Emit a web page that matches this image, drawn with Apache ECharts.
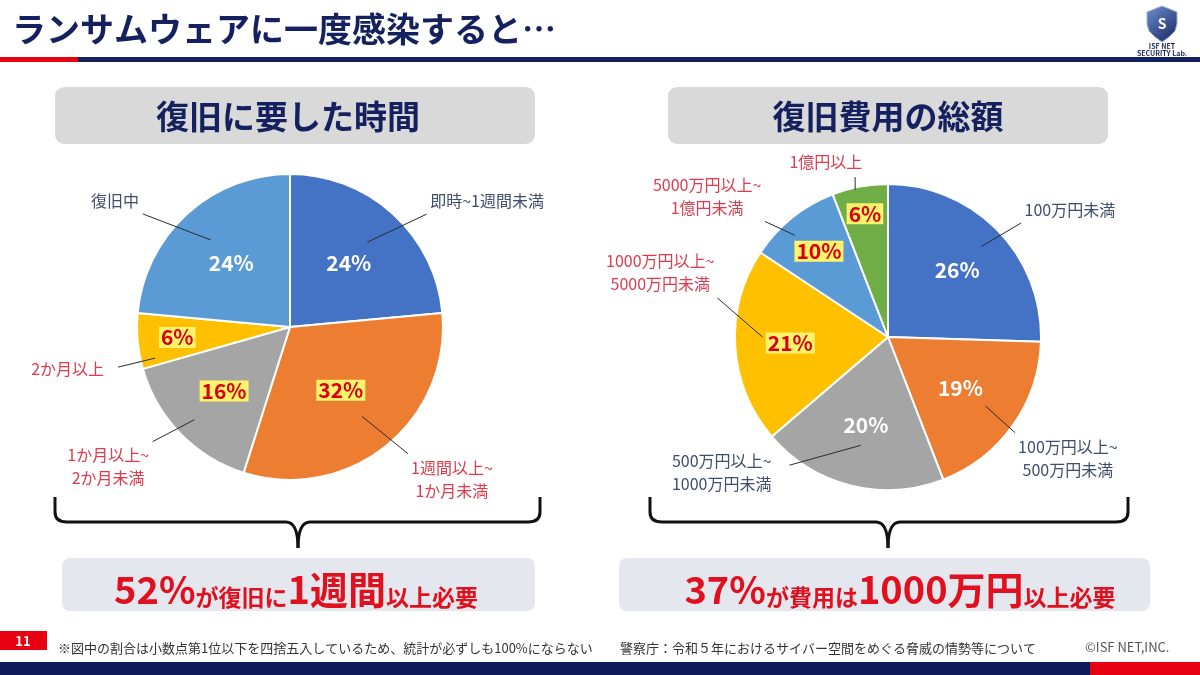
<!DOCTYPE html>
<html><head><meta charset="utf-8">
<script src="https://cdn.jsdelivr.net/npm/echarts@6/dist/echarts.min.js"></script>
<style>html,body{margin:0;padding:0;background:#fff;}#c{width:1200px;height:675px;}</style>
</head><body><div id="c"></div>
<script>
// ---- data ----
const leftCats = ['即時~1週間未満', '1週間以上~\n1か月未満', '1か月以上~\n2か月未満', '2か月以上', '復旧中'];
const leftValues = [24, 32, 16, 6, 24];
const leftHighlight = [false, true, true, true, false];
const rightCats = ['100万円未満', '100万円以上~\n500万円未満', '500万円以上~\n1000万円未満', '1000万円以上~\n5000万円未満', '5000万円以上~\n1億円未満', '1億円以上'];
const rightValues = [26, 19, 20, 21, 10, 6];
const rightHighlight = [false, false, false, true, true, true];
const leftTitle = '復旧に要した時間';
const rightTitle = '復旧費用の総額';
const mainTitle = 'ランサムウェアに一度感染すると…';
const noteText = '※図中の割合は小数点第1位以下を四捨五入しているため、統計が必ずしも100%にならない';
const sourceText = '警察庁：令和５年におけるサイバー空間をめぐる脅威の情勢等について';

// ---- layout / style ----
const FONT = '"Noto Sans CJK JP", "Noto Sans", sans-serif';
const NAVY = '#14215e';
const RED = '#e60012';
const DARK_LABEL = '#3f4d6e';
const RED_LABEL = '#df3b4c';
const leftColors = ['#4472c4', '#ed7d31', '#a5a5a5', '#ffc000', '#5b9bd5'];
const rightColors = ['#4472c4', '#ed7d31', '#a5a5a5', '#ffc000', '#5b9bd5', '#70ad47'];
const L = {cx: 290, cy: 327, r: 153};
const R = {cx: 888, cy: 337, r: 153};
const leftPctR = [0.57, 0.53, 0.6, 0.74, 0.57];
const rightPctR = [0.63, 0.58, 0.59, 0.64, 0.72, 0.82];
const leftNameOff = [[94, -13], [66, 33], [-72, 33], [-70, 28], [-72, -13]];
const rightNameOff = [[72, -21], [55, 33], [-129, -13], [-75, -74], [-85, -21], [-34, -25]];
// leader line start: [fraction of radius, angular shift in degrees]
const leftLineStart = [[0.75, 0], [0.75, 0], [0.87, 0], [0.905, -7.7], [0.77, 0]];
const rightLineStart = [[0.85, 0], [0.78, 0], [0.73, 0], [0.82, 3.5], [0.9, -3.6], [0.985, -2]];
// leader line end nudges (px)
const leftLineEnd = [[0, 0], [0, 0], [0, 0], [10, 9], [0, 0]];
const rightLineEnd = [[0, 0], [0, 0], [14, 16], [0, 0], [0, 0], [0, 0]];

function midAngles(vals) {
  const s = vals.reduce((a, b) => a + b, 0); let acc = 0;
  return vals.map(v => { const m = (acc + v / 2) / s * 360; acc += v; return m; });
}
const leftMids = midAngles(leftValues);
const rightMids = midAngles(rightValues);
function dir(deg) { const a = deg * Math.PI / 180; return [Math.sin(a), -Math.cos(a)]; }

function pctLayout(P, mids, fr) {
  return function (p) {
    const d = dir(mids[p.dataIndex]);
    const k = P.r * fr[p.dataIndex];
    return {x: P.cx + d[0] * k, y: P.cy + d[1] * k, align: 'center', verticalAlign: 'middle'};
  };
}
function nameLayout(P, mids, offs, starts, ends) {
  return function (p) {
    const i = p.dataIndex;
    const d = dir(mids[i]);
    const ex = P.cx + d[0] * P.r, ey = P.cy + d[1] * P.r;
    const lx = ex + offs[i][0], ly = ey + offs[i][1];
    const w = p.labelRect.width, h = p.labelRect.height;
    const ds = dir(mids[i] + starts[i][1]);
    const sx = P.cx + ds[0] * P.r * starts[i][0], sy = P.cy + ds[1] * P.r * starts[i][0];
    const rx0 = lx - w / 2, ry0 = ly - h / 2;
    let nx = Math.min(Math.max(sx, rx0), rx0 + w);
    let ny = Math.min(Math.max(sy, ry0), ry0 + h);
    const vx = sx - nx, vy = sy - ny, len = Math.hypot(vx, vy) || 1;
    nx += vx / len * 4 + ends[i][0]; ny += vy / len * 4 + ends[i][1];
    return {x: lx, y: ly, align: 'center', verticalAlign: 'middle',
      labelLinePoints: [[sx, sy], [nx, ny], [nx, ny]]};
  };
}
function pctLabel(hl) {
  return hl ? {color: '#d8000f', backgroundColor: '#fff36b', padding: [1, 2, -1, 2]}
            : {color: '#ffffff'};
}
function mainPie(P, cats, vals, colors, hl, mids, fr) {
  return {
    type: 'pie', z: 2, center: [P.cx, P.cy], radius: [0, P.r], startAngle: 90, clockwise: true,
    silent: true, animation: false, emphasis: {disabled: true},
    itemStyle: {borderColor: '#ffffff', borderWidth: 2},
    label: {show: true, position: 'inside', formatter: '{c}%', fontSize: 21, fontWeight: 'bold', fontFamily: FONT},
    labelLine: {show: false},
    labelLayout: pctLayout(P, mids, fr),
    data: vals.map((v, i) => ({value: v, name: cats[i], itemStyle: {color: colors[i]}, label: pctLabel(hl[i])}))
  };
}
function namePie(P, cats, vals, hl, mids, offs, starts, ends) {
  return {
    type: 'pie', z: 4, center: [P.cx, P.cy], radius: [0, P.r], startAngle: 90, clockwise: true,
    silent: true, animation: false, emphasis: {disabled: true}, avoidLabelOverlap: false,
    itemStyle: {color: 'rgba(0,0,0,0)', borderWidth: 0},
    label: {show: true, position: 'outside', formatter: '{b}', fontSize: 16, lineHeight: 23, fontFamily: FONT},
    labelLine: {show: true, length: 10, length2: 5, lineStyle: {color: '#2a2a2a', width: 1}},
    labelLayout: nameLayout(P, mids, offs, starts, ends),
    data: vals.map((v, i) => ({value: v, name: cats[i], label: {color: hl[i] ? RED_LABEL : DARK_LABEL}}))
  };
}
// curly brace made of lines and quadratic curves
function brace(x0, x1, xm) {
  const yt = 497, yh = 522, yb = 548, c = 12;
  const st = {stroke: '#111111', lineWidth: 3, fill: null};
  return [
    {type: 'line', shape: {x1: x0, y1: yt, x2: x0, y2: yh - 10}, style: st},
    {type: 'bezierCurve', shape: {x1: x0, y1: yh - 10, cpx1: x0, cpy1: yh, x2: x0 + c, y2: yh}, style: st},
    {type: 'line', shape: {x1: x0 + c, y1: yh, x2: xm - c, y2: yh}, style: st},
    {type: 'bezierCurve', shape: {x1: xm - c, y1: yh, cpx1: xm, cpy1: yh, x2: xm, y2: yb}, style: st},
    {type: 'bezierCurve', shape: {x1: xm, y1: yb, cpx1: xm, cpy1: yh, x2: xm + c, y2: yh}, style: st},
    {type: 'line', shape: {x1: xm + c, y1: yh, x2: x1 - c, y2: yh}, style: st},
    {type: 'bezierCurve', shape: {x1: x1 - c, y1: yh, cpx1: x1, cpy1: yh, x2: x1, y2: yh - 10}, style: st},
    {type: 'line', shape: {x1: x1, y1: yh - 10, x2: x1, y2: yt}, style: st}
  ];
}

const chart = echarts.init(document.getElementById('c'), null, {renderer: 'canvas'});
const bigRed = {fontSize: 38, fontWeight: 'bold', fontFamily: FONT, fill: '#e0101e', color: '#e0101e', verticalAlign: 'bottom', lineHeight: 48};
const smallRed = {fontSize: 23, fontWeight: 'bold', fontFamily: FONT, fill: '#e0101e', color: '#e0101e', verticalAlign: 'bottom', lineHeight: 36};
const shieldPts = [[1147, 12], [1162, 6], [1177, 12], [1177, 24], [1175, 31], [1169, 37], [1162, 42], [1155, 37], [1149, 31], [1147, 24]];
chart.setOption({
  backgroundColor: '#ffffff',
  animation: false,
  graphic: [
    {type: 'text', left: 12, top: 12, style: {text: mainTitle, font: 'bold 34px ' + FONT, fill: NAVY}},
    {type: 'rect', shape: {x: 0, y: 57, width: 78, height: 5}, style: {fill: RED}},
    {type: 'rect', shape: {x: 78, y: 57, width: 1122, height: 5}, style: {fill: NAVY}},
    // logo
    {type: 'polygon', shape: {points: shieldPts},
      style: {fill: new echarts.graphic.LinearGradient(0, 0, 1, 1, [{offset: 0, color: '#6f8fd0'}, {offset: 1, color: '#15245e'}]), stroke: '#9fb0d8', lineWidth: 1}},
    {type: 'text', style: {text: 'S', x: 1162, y: 24, font: 'bold 14px ' + FONT, fill: '#ffffff', textAlign: 'center', textVerticalAlign: 'middle'}},
    {type: 'text', style: {text: 'ISF NET', x: 1162, y: 46, font: 'bold 7px ' + FONT, fill: '#1a2a5e', textAlign: 'center', textVerticalAlign: 'middle'}},
    {type: 'text', style: {text: 'SECURITY Lab.', x: 1162, y: 53, font: 'bold 7px ' + FONT, fill: '#1a2a5e', textAlign: 'center', textVerticalAlign: 'middle'}},
    // subtitle boxes
    {type: 'rect', shape: {x: 55, y: 87, width: 480, height: 57, r: 9}, style: {fill: '#d9d9d9'}},
    {type: 'text', style: {text: leftTitle, x: 288, y: 116, font: 'bold 33px ' + FONT, fill: NAVY, textAlign: 'center', textVerticalAlign: 'middle'}},
    {type: 'rect', shape: {x: 668, y: 87, width: 440, height: 57, r: 9}, style: {fill: '#d9d9d9'}},
    {type: 'text', style: {text: rightTitle, x: 888, y: 116, font: 'bold 33px ' + FONT, fill: NAVY, textAlign: 'center', textVerticalAlign: 'middle'}},
    // braces
    ...brace(55, 540, 298),
    ...brace(650, 1128, 888),
    // conclusion boxes
    {type: 'rect', shape: {x: 62, y: 558, width: 473, height: 53, r: 8}, style: {fill: '#e5e7ee'}},
    {type: 'text', style: {text: '{a|52%}{b|が復旧に}{a|1週間}{b|以上必要}', x: 296, y: 585, textAlign: 'center', textVerticalAlign: 'middle',
      rich: {a: bigRed, b: smallRed}}},
    {type: 'rect', shape: {x: 619, y: 558, width: 531, height: 53, r: 8}, style: {fill: '#e5e7ee'}},
    {type: 'text', style: {text: '{a|37%}{b|が費用は}{a|1000万円}{b|以上必要}', x: 900, y: 585, textAlign: 'center', textVerticalAlign: 'middle',
      rich: {a: bigRed, b: smallRed}}},
    // footer
    {type: 'rect', shape: {x: 0, y: 631, width: 47, height: 19}, style: {fill: RED}},
    {type: 'text', style: {text: '11', x: 23, y: 641, font: 'bold 13px ' + FONT, fill: '#ffffff', textAlign: 'center', textVerticalAlign: 'middle'}},
    {type: 'text', style: {text: noteText, x: 58, y: 648, font: '13px ' + FONT, fill: '#333333', textVerticalAlign: 'middle'}},
    {type: 'text', style: {text: sourceText, x: 620, y: 648, font: '13px ' + FONT, fill: '#333333', textVerticalAlign: 'middle'}},
    {type: 'text', style: {text: '©ISF NET,INC.', x: 1085, y: 647, font: '13px ' + FONT, fill: '#555555', textVerticalAlign: 'middle'}},
    {type: 'rect', shape: {x: 0, y: 662, width: 1090, height: 13}, style: {fill: '#0d1b5a'}},
    {type: 'rect', shape: {x: 1090, y: 662, width: 110, height: 13}, style: {fill: RED}}
  ],
  series: [
    mainPie(L, leftCats, leftValues, leftColors, leftHighlight, leftMids, leftPctR),
    mainPie(R, rightCats, rightValues, rightColors, rightHighlight, rightMids, rightPctR),
    namePie(L, leftCats, leftValues, leftHighlight, leftMids, leftNameOff, leftLineStart, leftLineEnd),
    namePie(R, rightCats, rightValues, rightHighlight, rightMids, rightNameOff, rightLineStart, rightLineEnd)
  ]
});
</script></body></html>
